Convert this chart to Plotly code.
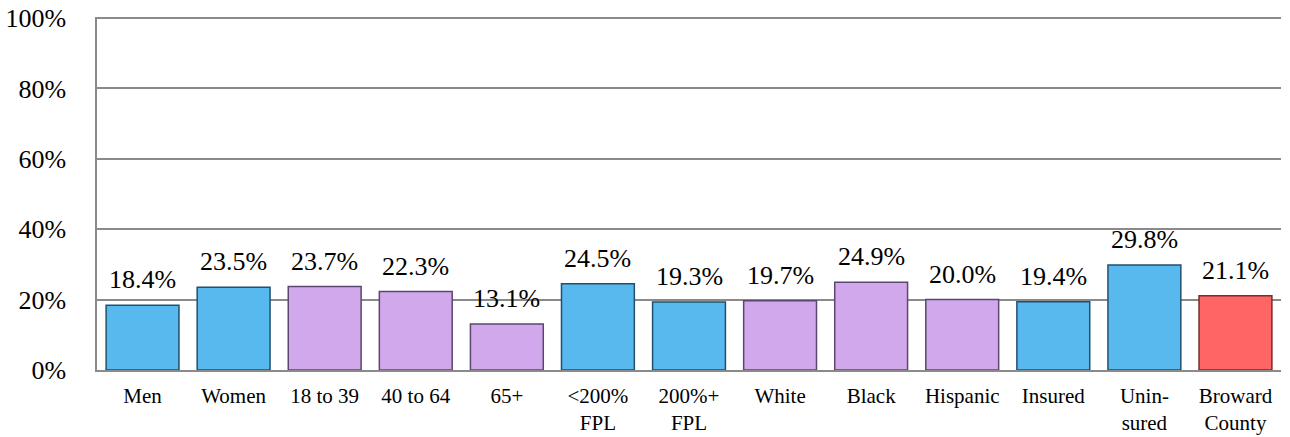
import plotly.graph_objects as go

# categories and values
categories = ["Men", "Women", "18 to 39", "40 to 64", "65+", "<200%<br>FPL", "200%+<br>FPL",
              "White", "Black", "Hispanic", "Insured", "Unin-<br>sured", "Broward<br>County"]
values = [18.4, 23.5, 23.7, 22.3, 13.1, 24.5, 19.3, 19.7, 24.9, 20.0, 19.4, 29.8, 21.1]
groups = ["sex", "sex", "age", "age", "age", "inc", "inc", "race", "race", "race", "ins", "ins", "county"]

fill = {"sex": "#58b9ee", "age": "#d1a8ec", "inc": "#58b9ee", "race": "#d1a8ec",
        "ins": "#58b9ee", "county": "#ff6565"}
edge = {"sex": "#21506f", "age": "#5c4770", "inc": "#21506f", "race": "#5c4770",
        "ins": "#21506f", "county": "#7a2b2b"}

font_family = "Liberation Serif, serif"

fig = go.Figure(go.Bar(
    x=categories,
    y=[v / 100 for v in values],
    marker=dict(color=[fill[g] for g in groups],
                line=dict(color=[edge[g] for g in groups], width=1.5)),
    hoverinfo="x+y",
))

# value labels sitting a little above each bar
for cat, v in zip(categories, values):
    fig.add_annotation(
        x=cat, y=v / 100, text=f"{v:.1f}%",
        showarrow=False, yanchor="bottom", yshift=9,
        font=dict(family=font_family, size=26, color="#000000"),
    )

fig.update_layout(
    width=1290, height=437,
    margin=dict(l=97, r=9, t=17, b=67),
    plot_bgcolor="white", paper_bgcolor="white",
    bargap=0.2,
    showlegend=False,
    font=dict(family=font_family, color="#000000"),
)
fig.update_yaxes(
    range=[0, 1.003], tickvals=[0, 0.2, 0.4, 0.6, 0.8, 1.0], tickformat=".0%",
    showgrid=True, gridcolor="#8a8a8a", gridwidth=1.5,
    showline=True, linecolor="#8a8a8a", linewidth=1.5,
    zeroline=False,
    tickfont=dict(family=font_family, size=26),
    ticklabelstandoff=24,
    ticklabeloverflow="allow",
    automargin=False,
)
fig.update_xaxes(
    showline=True, linecolor="#8a8a8a", linewidth=1.5,
    tickfont=dict(family=font_family, size=21),
    tickangle=0,
    ticklabelstandoff=6,
    ticklabeloverflow="allow",
    automargin=False,
)

# drop the browser's default body margin so the figure fills the window exactly
fig.write_html("out.html", config={"displayModeBar": False},
               post_script="document.body.style.margin = '0';")
